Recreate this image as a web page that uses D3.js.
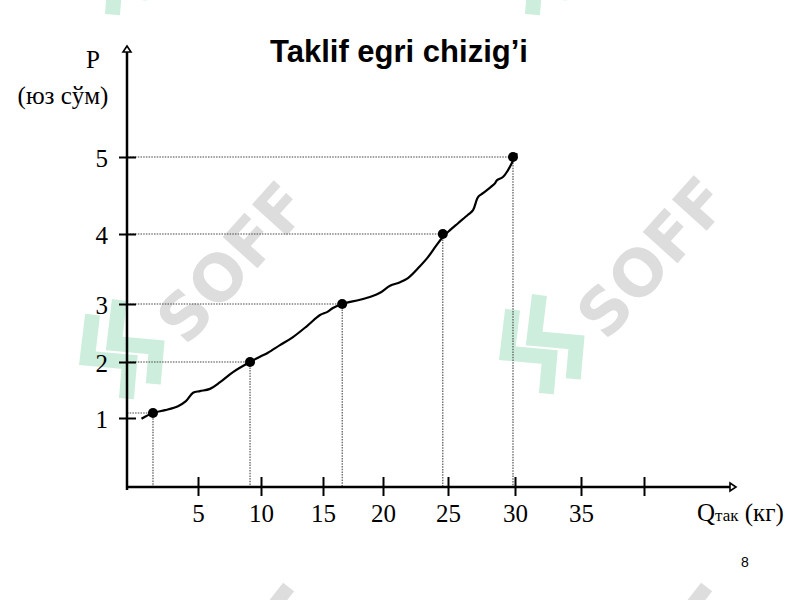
<!DOCTYPE html>
<html><head><meta charset="utf-8">
<script src="https://cdn.jsdelivr.net/npm/d3@7"></script>
<style>html,body{margin:0;padding:0;background:#fff;}svg{display:block;}</style>
</head><body>
<svg id="c" width="800" height="600"></svg>
<script>
// ---- data ----
const xTickValues = [5, 10, 15, 20, 25, 30, 35, 40];
const xTickLabels = ["5", "10", "15", "20", "25", "30", "35", ""];
const yTickValues = [1, 2, 3, 4, 5];
const yTickLabels = ["1", "2", "3", "4", "5"];
// supply curve (Q, P)
const curveQ = [1.02, 1.83, 2.68, 3.59, 4.15, 4.65, 5.16, 5.95, 6.75, 7.78, 9.13, 9.92, 10.56, 11.53, 12.58, 13.71, 14.76, 15.33, 15.83, 16.58, 18.08, 19.08, 19.75, 20.54, 21.31, 21.92, 22.69, 23.46, 24.08, 24.62, 25.15, 25.75, 26.49, 26.87, 27.24, 27.61, 28.51, 28.66, 29.10, 29.48, 29.85, 30.15];
const curveP = [0.99, 1.09, 1.14, 1.21, 1.30, 1.45, 1.48, 1.52, 1.64, 1.82, 2.00, 2.09, 2.16, 2.29, 2.43, 2.62, 2.81, 2.86, 2.93, 3.00, 3.06, 3.11, 3.16, 3.26, 3.31, 3.37, 3.51, 3.67, 3.83, 3.96, 4.05, 4.14, 4.25, 4.31, 4.48, 4.53, 4.66, 4.70, 4.74, 4.83, 4.95, 5.05];
// marked points
const pointQ = [1.83, 9.13, 16.6, 24.6, 29.85];
const pointP = [1.09, 2, 3, 4, 5];

const title = "Taklif egri chizig\u2019i";
const yTitle1 = "P";
const yTitle2 = "(юз сўм)";
const pageNo = "8";

// ---- scales ----
const x = d3.scaleLinear().domain([0, 5, 10, 15, 20, 25, 30, 35, 40])
  .range([127, 198, 261, 323, 383, 448, 515, 581, 644]);
const y = d3.scaleLinear().domain([0, 1, 2, 3, 4, 5])
  .range([487, 418, 362, 304, 234, 157]);

const svg = d3.select("#c");
const serif = "'Liberation Serif','Times New Roman',serif";
const sans = "'Liberation Sans',Arial,sans-serif";

// ---- watermarks ----
function logo(gx, gy) {
  const lg = svg.append("g").attr("transform", `translate(${gx},${gy}) rotate(-40)`);
  const s = "M14,-50 L-18,-20 L12,10 L-14,36";
  [0, 30].forEach(dx => {
    lg.append("path").attr("d", s).attr("transform", `translate(${dx},${dx * 0.2})`)
      .attr("fill", "none").attr("stroke", "#cdeedc").attr("stroke-width", 15)
      .attr("stroke-linejoin", "miter");
  });
}
function watermark(cx, cy) {
  svg.append("text").attr("transform", `translate(${cx},${cy}) rotate(-48)`)
    .attr("text-anchor", "middle").attr("dy", "0.36em")
    .style("font-family", "'DejaVu Sans',sans-serif").style("font-weight", "bold").style("font-size", "64px")
    .attr("fill", "#dddddd").text("SOFF");
  logo(cx - 118, cy + 100);
}
watermark(232, 262);
watermark(652, 257);
logo(100, -22);
logo(520, -22);
// fragments of the next row of watermarks at the bottom edge
[280, 698].forEach(fx => {
  svg.append("rect").attr("x", -7).attr("y", -14).attr("width", 14).attr("height", 28)
    .attr("transform", `translate(${fx},598) rotate(38)`).attr("fill", "#dddddd");
});

// ---- title ----
svg.append("text").attr("x", 399).attr("y", 62).attr("text-anchor", "middle")
  .style("font-family", sans).style("font-weight", "bold").style("font-size", "31px")
  .attr("fill", "#000").text(title);

// ---- guide lines ----
const pts = pointQ.map((q, i) => ({ q, p: pointP[i] }));
const guides = svg.append("g").attr("stroke", "#444").attr("stroke-width", 1.1)
  .attr("stroke-dasharray", "1.5,1.2").attr("fill", "none");
guides.selectAll("line.h").data(pts).join("line").attr("class", "h")
  .attr("x1", x(0)).attr("x2", d => x(d.q)).attr("y1", d => y(d.p)).attr("y2", d => y(d.p));
guides.selectAll("line.v").data(pts).join("line").attr("class", "v")
  .attr("x1", d => x(d.q)).attr("x2", d => x(d.q)).attr("y1", d => y(d.p)).attr("y2", y(0));

// ---- axes ----
const defs = svg.append("defs");
defs.append("marker").attr("id", "arr").attr("viewBox", "-6 -6 12 12")
  .attr("refX", 0).attr("refY", 0).attr("markerWidth", 12).attr("markerHeight", 12)
  .attr("markerUnits", "userSpaceOnUse").attr("orient", "auto")
  .append("path").attr("d", "M-5,-4 L1,0 L-5,4 Z").attr("fill", "#fff").attr("stroke", "#000").attr("stroke-width", 1.6);

svg.append("line").attr("x1", x(0)).attr("x2", x(0)).attr("y1", y(0) + 3).attr("y2", 47)
  .attr("stroke", "#000").attr("stroke-width", 2.5).attr("marker-end", "url(#arr)");
svg.append("line").attr("x1", x(0) - 1).attr("x2", 735).attr("y1", y(0)).attr("y2", y(0))
  .attr("stroke", "#000").attr("stroke-width", 2.5).attr("marker-end", "url(#arr)");

const xAxis = svg.append("g").attr("transform", `translate(0,${y(0)})`)
  .call(d3.axisBottom(x).tickValues(xTickValues).tickSizeOuter(0).tickFormat((d, i) => xTickLabels[i]));
xAxis.select(".domain").remove();
xAxis.selectAll(".tick line").attr("y1", -10).attr("y2", 9).attr("stroke", "#000").attr("stroke-width", 2);
xAxis.selectAll(".tick text").attr("y", 35).attr("dy", 0)
  .style("font-family", serif).style("font-size", "25px").attr("fill", "#000");

const yAxis = svg.append("g").attr("transform", `translate(${x(0)},0)`)
  .call(d3.axisLeft(y).tickValues(yTickValues).tickSizeOuter(0).tickFormat((d, i) => yTickLabels[i]));
yAxis.select(".domain").remove();
yAxis.selectAll(".tick line").attr("x1", -8).attr("x2", 9).attr("stroke", "#000").attr("stroke-width", 2);
yAxis.selectAll(".tick text").attr("x", -19).attr("dy", "0.36em")
  .style("font-family", serif).style("font-size", "25px").attr("fill", "#000");

// axis titles
svg.append("text").attr("x", 93).attr("y", 68).attr("text-anchor", "middle")
  .style("font-family", serif).style("font-size", "25px").text(yTitle1);
svg.append("text").attr("x", 63).attr("y", 104).attr("text-anchor", "middle")
  .style("font-family", serif).style("font-size", "25px").text(yTitle2);
const xt = svg.append("text").attr("x", 697).attr("y", 521)
  .style("font-family", serif).style("font-size", "25px");
xt.append("tspan").text("Q");
xt.append("tspan").style("font-size", "17px").text("так");
xt.append("tspan").text(" (кг)");

// ---- curve ----
const curve = curveQ.map((q, i) => [q, curveP[i]]);
svg.append("path").datum(curve)
  .attr("d", d3.line().x(d => x(d[0])).y(d => y(d[1])).curve(d3.curveCatmullRom))
  .attr("fill", "none").attr("stroke", "#000").attr("stroke-width", 2.2).attr("stroke-linejoin", "round");

svg.selectAll("circle.pt").data(pts).join("circle").attr("class", "pt")
  .attr("cx", d => x(d.q)).attr("cy", d => y(d.p)).attr("r", 5).attr("fill", "#000");

// page number
svg.append("text").attr("x", 745).attr("y", 567).attr("text-anchor", "middle")
  .style("font-family", sans).style("font-size", "14px").text(pageNo);
</script>
</body></html>
